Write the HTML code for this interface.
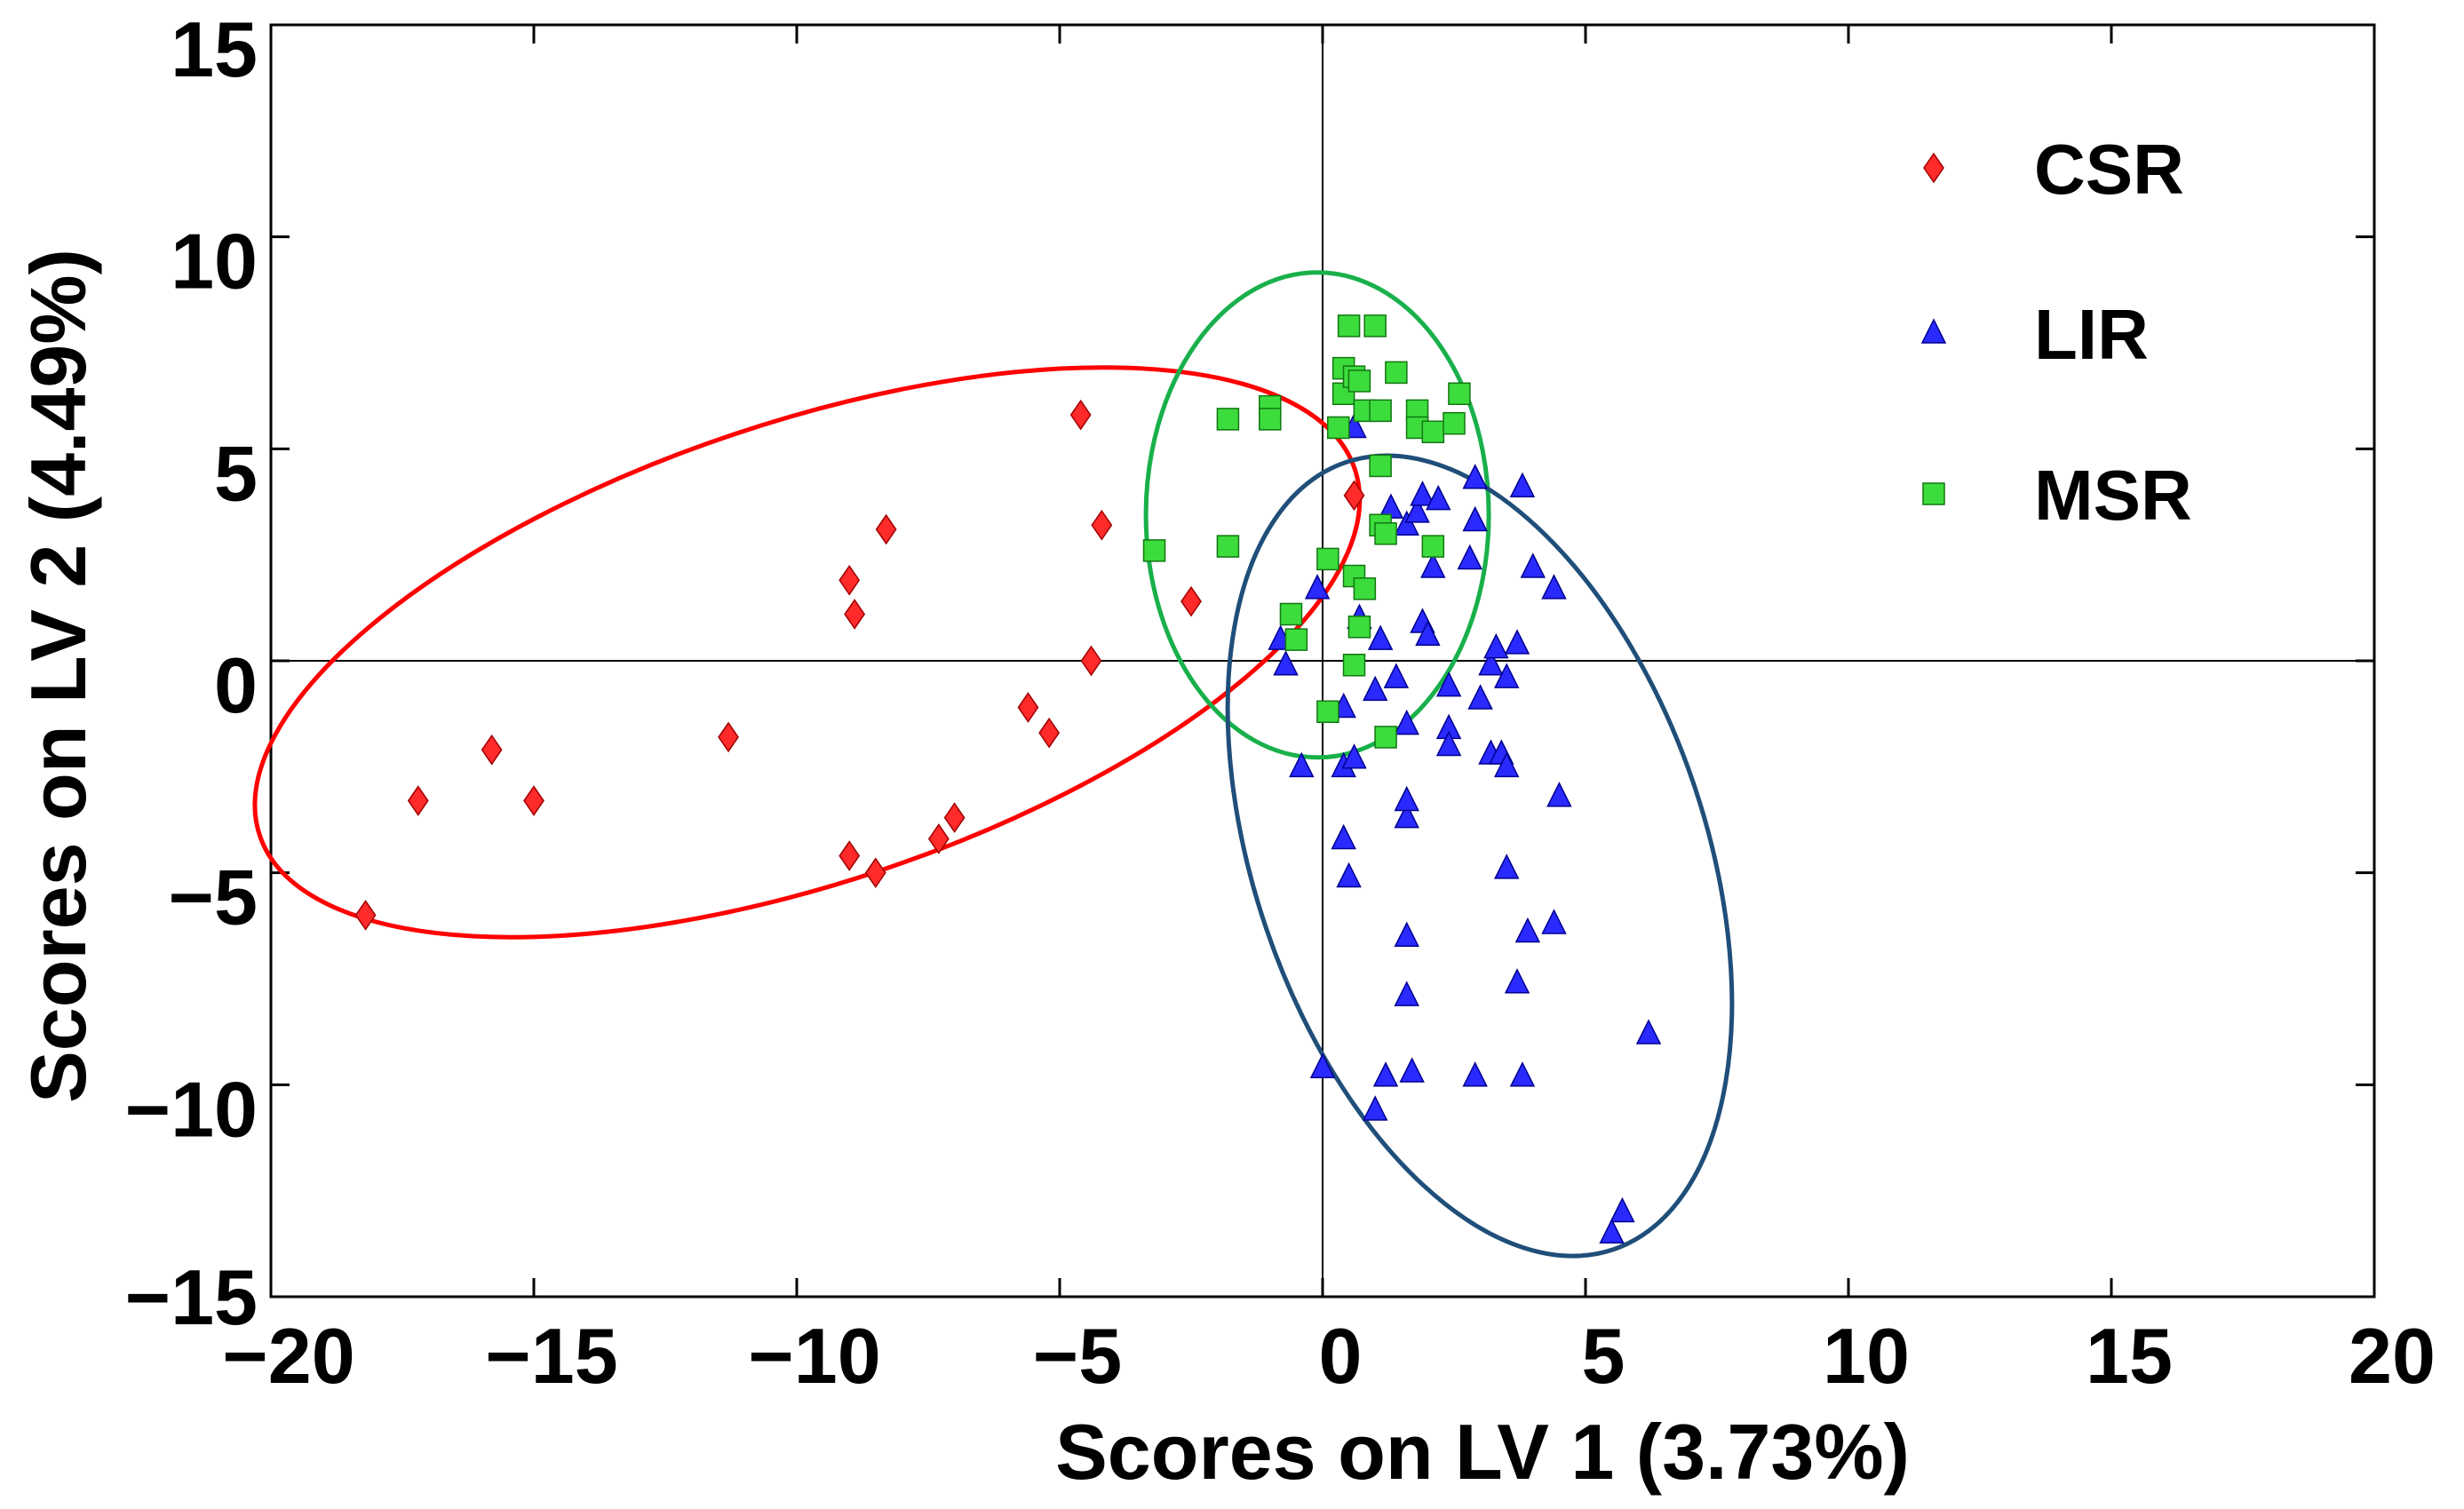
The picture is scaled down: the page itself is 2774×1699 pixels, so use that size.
<!DOCTYPE html>
<html><head><meta charset="utf-8"><style>
html,body{margin:0;padding:0;background:#fff}
svg{display:block;font-family:"Liberation Sans",Arial,sans-serif;font-weight:bold}
</style></head><body>
<svg id="chart" width="2774" height="1699" viewBox="0 0 2774 1699" xmlns="http://www.w3.org/2000/svg"></svg>
<script>
const csrX=[-18.2,-17.2,-15.8,-15.0,-11.3,-9.0,-8.9,-8.3,-9.0,-8.5,-7.3,-7.0,-5.6,-5.2,-4.6,-4.4,-4.2,-2.5,0.6];
const csrY=[-6.0,-3.3,-2.1,-3.3,-1.8,1.9,1.1,3.1,-4.6,-5.0,-4.2,-3.7,-1.1,-1.7,5.8,0.0,3.2,1.4,3.9];
const msrX=[-3.2,-1.8,-1.8,-1.0,-1.0,-0.6,-0.5,0.1,0.1,0.3,0.4,0.4,0.5,0.6,0.7,0.6,0.6,0.7,0.8,0.8,1.0,1.1,1.1,1.1,1.2,1.2,1.4,1.8,1.8,2.1,2.1,2.5,2.6];
const msrY=[2.6,5.7,2.7,6.0,5.7,1.1,0.5,2.4,-1.2,5.5,6.9,6.3,7.9,6.7,6.6,2.0,-0.1,0.8,1.7,5.9,7.9,5.9,4.6,3.2,3.0,-1.8,6.8,5.9,5.5,5.4,2.7,5.6,6.3];
const lirX=[-0.1,-0.8,-0.7,-0.4,0.0,0.4,0.4,0.5,0.4,0.6,0.6,0.7,1.0,1.1,1.2,1.0,1.3,1.4,1.6,1.6,1.6,1.6,1.6,1.6,1.7,1.8,1.9,1.9,2.0,2.1,2.2,2.4,2.4,2.4,2.8,2.9,2.9,3.0,2.9,3.2,3.2,3.3,3.4,3.5,3.5,3.5,3.7,3.7,3.8,3.8,3.9,4.0,4.4,4.4,4.5,5.7,5.5,6.2];
const lirY=[1.7,0.5,-0.1,-2.5,-9.6,-1.1,-4.2,-5.1,-2.5,-2.3,5.5,1.0,-0.7,0.5,-9.8,-10.6,3.6,-0.4,3.2,-3.7,-3.3,-1.5,-6.5,-7.9,-9.7,3.5,3.9,0.9,0.6,2.2,3.8,-0.6,-1.6,-2.0,2.4,3.3,4.3,-0.9,-9.8,-2.2,-0.1,0.3,-2.2,-2.5,-0.4,-4.9,0.4,-7.6,4.1,-9.8,-6.4,2.2,1.7,-6.2,-3.2,-13.0,-13.5,-8.8];
const xTicks=[-20,-15,-10,-5,0,5,10,15,20];
const yTicks=[-15,-10,-5,0,5,10,15];
const xTickLabels=["\u221220","\u221215","\u221210","\u22125","0","5","10","15","20"];
const yTickLabels=["\u221215","\u221210","\u22125","0","5","10","15"];
const ellCenterX=[-9.8,-0.1,2.99];
const ellCenterY=[0.2,3.44,-4.6];

const L=305,R=2673,T=28,B=1460;
const sx=v=>L+(v+20)/40*(R-L);
const sy=v=>B-(v+15)/30*(B-T);
const NS="http://www.w3.org/2000/svg";
const svg=document.getElementById('chart');
function mk(tag,at,parent){const e=document.createElementNS(NS,tag);for(const k in at)e.setAttribute(k,at[k]);(parent||svg).appendChild(e);return e;}

const fr=mk('rect',{x:L,y:T,width:R-L,height:B-T,fill:'none',stroke:'#000','stroke-width':3});


const zx=mk('line',{x1:sx(0),x2:sx(0),y1:T,y2:B,stroke:'#000','stroke-width':2});


const zy=mk('line',{x1:L,x2:R,y1:sy(0),y2:sy(0),stroke:'#000','stroke-width':2});



xTicks.forEach((v,i)=>{
  const x=sx(v);
  mk('line',{x1:x,x2:x,y1:B,y2:B-21,stroke:'#000','stroke-width':3});
  mk('line',{x1:x,x2:x,y1:T,y2:T+21,stroke:'#000','stroke-width':3});
  const t=mk('text',{x:x+20,y:1557,'font-size':88,'text-anchor':'middle'});
  t.textContent=xTickLabels[i];
  
  
});
yTicks.forEach((v,i)=>{
  const y=sy(v);
  mk('line',{x1:L,x2:L+21,y1:y,y2:y,stroke:'#000','stroke-width':3});
  mk('line',{x1:R,x2:R-21,y1:y,y2:y,stroke:'#000','stroke-width':3});
  const dy = v===-15 ? 31 : 58;
  const t=mk('text',{x:290,y:y+dy,'font-size':88,'text-anchor':'end'});
  t.textContent=yTickLabels[i];
  
  
});

const e1=mk('ellipse',{cx:sx(ellCenterX[0]),cy:sy(ellCenterY[0]),rx:650,ry:259,transform:`rotate(-18.5 ${sx(ellCenterX[0])} ${sy(ellCenterY[0])})`,fill:'none',stroke:'#ff0000','stroke-width':5});


const e2=mk('ellipse',{cx:sx(ellCenterX[1]),cy:sy(ellCenterY[1]),rx:193,ry:273,fill:'none',stroke:'#19b04b','stroke-width':5});


const e3=mk('ellipse',{cx:sx(ellCenterX[2]),cy:sy(ellCenterY[2]),rx:254,ry:468,transform:`rotate(-18.8 ${sx(ellCenterX[2])} ${sy(ellCenterY[2])})`,fill:'none',stroke:'#1f4e79','stroke-width':5});



function diamond(x,y,g){return mk('polygon',{points:`${x},${y-16} ${x+11},${y} ${x},${y+16} ${x-11},${y}`,fill:'#ff2a2a',stroke:'#a00000','stroke-width':1.5},g);}
function tri(x,y,g){return mk('polygon',{points:`${x},${y-15} ${x+13},${y+11} ${x-13},${y+11}`,fill:'#2a2aff',stroke:'#000090','stroke-width':1.5},g);}
function sq(x,y,g){return mk('rect',{x:x-12,y:y-12,width:24,height:24,fill:'#3ddc3d',stroke:'#117711','stroke-width':1.5},g);}

const gC=mk('g',{});
const gL=mk('g',{});
const gM=mk('g',{});
csrX.forEach((v,i)=>{const p=diamond(sx(v),sy(csrY[i]),gC);

});
lirX.forEach((v,i)=>{const p=tri(sx(v),sy(lirY[i]),gL);

});
msrX.forEach((v,i)=>{const p=sq(sx(v),sy(msrY[i]),gM);

});

const lg=mk('g',{});
const names=['CSR','LIR','MSR'],ys=[189,375,556],fns=[diamond,tri,sq];
names.forEach((n,i)=>{
  const m=fns[i](2177,ys[i],lg);
  
  
  const t=mk('text',{x:2290,y:ys[i]+29,'font-size':80},lg);
  t.textContent=n;
  
  
});

const xt=mk('text',{x:1669,y:1665,'font-size':88,'text-anchor':'middle'});
xt.textContent='Scores on LV 1 (3.73%)';


const yt=mk('text',{x:0,y:0,'font-size':88,'text-anchor':'middle',transform:'translate(96,761) rotate(-90)'});
yt.textContent='Scores on LV 2 (4.49%)';


</script>
</body></html>
